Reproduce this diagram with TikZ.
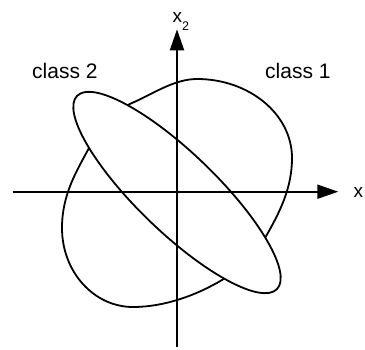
\documentclass[tikz,border=0pt]{standalone}
\usepackage{fontspec}
\setmainfont{Liberation Sans}
\usetikzlibrary{arrows.meta}
\begin{document}
\begin{tikzpicture}[x=1pt,y=-1pt,
  curve/.style={line width=1.8pt},
  axis/.style={line width=2pt,-{Triangle[length=21pt,width=14pt]}},
  lbl/.style={font=\fontsize{21}{25}\selectfont,inner sep=0pt,anchor=base west},
  axlbl/.style={font=\fontsize{19}{22}\selectfont,inner sep=0pt,anchor=base west}]
\useasboundingbox (0,0) rectangle (365,349);
% class 1 region
\draw[curve] (197,79) .. controls (249,79) and (292,114) .. (292,158)
  .. controls (292,188) and (280,212) .. (265,238)
  .. controls (255,255) and (239,270) .. (222,280)
  .. controls (196,295.5) and (164,307) .. (133,307)
  .. controls (94,307) and (62,272) .. (62,228)
  .. controls (62,195) and (76,172) .. (89,148)
  .. controls (99,129.5) and (112.7,111.2) .. (132,103)
  .. controls (153,94) and (174,79) .. (197,79) -- cycle;
% class 2 region
\coordinate (c) at (177,192.5);
\draw[curve,fill=white,rotate around={-44:(c)}] (c) ellipse [x radius=139pt,y radius=39.5pt];
% axes
\coordinate (xl) at (12.7,191.7);
\coordinate (xr) at (338.3,191.7);
\coordinate (yb) at (177,347);
\coordinate (yt) at (177,29.3);
\draw[axis] (xl) -- (xr);
\draw[axis] (yb) -- (yt);
% labels
\node[lbl] (c2) at (32,78.3) {class 2};
\node[lbl] (c1) at (265,78.3) {class 1};
\node[axlbl] (xlab) at (353.5,197) {x};
\node[axlbl] (x2lab) at (172.5,22.7) {x\raisebox{-7.3pt}{\fontsize{12.5}{14}\selectfont 2}};
\end{tikzpicture}
\end{document}
